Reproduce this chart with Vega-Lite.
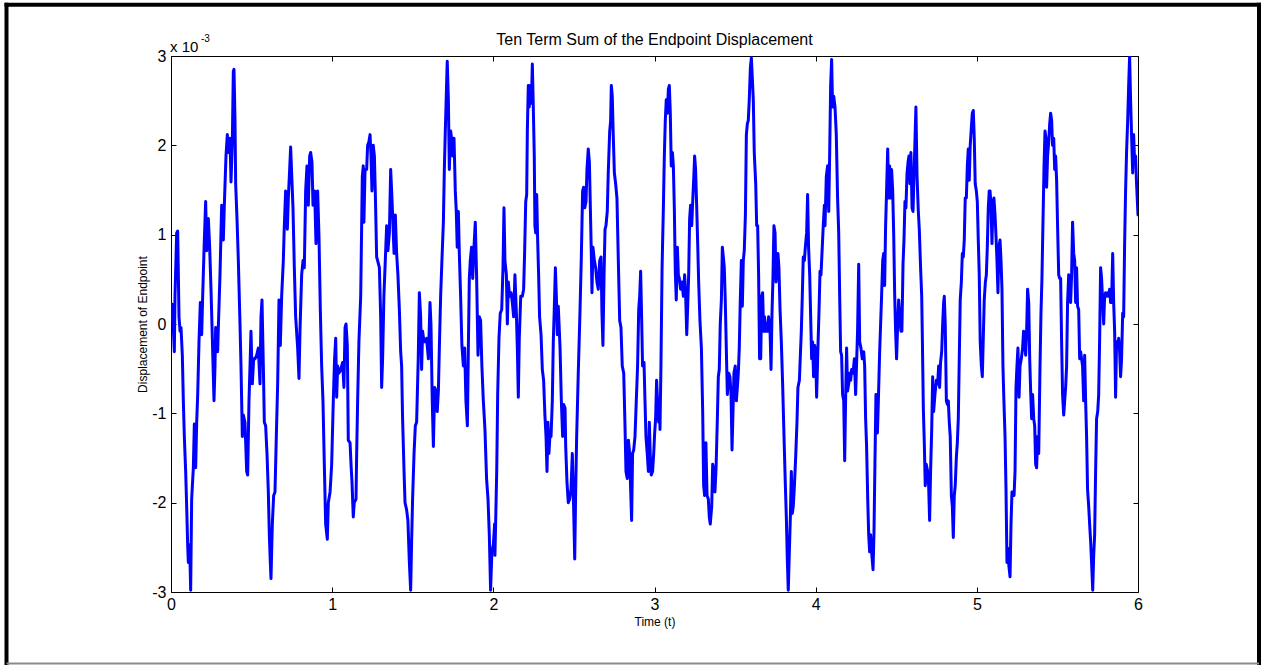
{
  "$schema": "https://vega.github.io/schema/vega-lite/v6.json",
  "width": 967,
  "height": 536,
  "autosize": {"type": "none"},
  "padding": {"left": 171, "top": 56, "right": 129, "bottom": 73},
  "background": "#ffffff",
  "config": {
    "view": {"stroke": "#000000", "strokeWidth": 1},
    "font": "Liberation Sans",
    "axis": {
      "grid": false,
      "domain": false,
      "ticks": true,
      "tickSize": -5,
      "tickColor": "#000000",
      "tickWidth": 1,
      "labelColor": "#000000",
      "labelFont": "Liberation Sans",
      "labelFontSize": 16,
      "labelFlush": false,
      "labelOverlap": false,
      "titleFont": "Liberation Sans",
      "titleFontWeight": "normal",
      "titleColor": "#000000",
      "titleFontSize": 12
    }
  },
  "datasets": {
    "signal": [
      {"time":0,"disp":0.04},{"time":0.0083,"disp":0.22},{"time":0.0207,"disp":-0.31},{"time":0.0248,"disp":0.31},{"time":0.0352,"disp":1.02},{"time":0.0414,"disp":1.04},{"time":0.0497,"disp":0.08},{"time":0.0559,"disp":-0.08},{"time":0.0621,"disp":-0.04},{"time":0.0703,"disp":-0.35},{"time":0.0765,"disp":-0.86},{"time":0.0827,"disp":-1.26},{"time":0.091,"disp":-1.65},{"time":0.0972,"disp":-2.04},{"time":0.1034,"disp":-2.47},{"time":0.1076,"disp":-2.67},{"time":0.1158,"disp":-2.47},{"time":0.122,"disp":-2.98},{"time":0.1282,"disp":-1.96},{"time":0.1386,"disp":-1.61},{"time":0.1448,"disp":-1.12},{"time":0.1531,"disp":-1.61},{"time":0.1593,"disp":-1.1},{"time":0.1655,"disp":-0.8},{"time":0.1737,"disp":-0.2},{"time":0.182,"disp":0.24},{"time":0.1903,"disp":-0.12},{"time":0.1965,"disp":0.31},{"time":0.2068,"disp":0.94},{"time":0.2151,"disp":1.37},{"time":0.2213,"disp":0.82},{"time":0.2316,"disp":1.18},{"time":0.2399,"disp":0.86},{"time":0.2482,"disp":0.39},{"time":0.2565,"disp":-0.16},{"time":0.2668,"disp":-0.86},{"time":0.273,"disp":-0.47},{"time":0.2771,"disp":-0.04},{"time":0.2895,"disp":-0.31},{"time":0.2937,"disp":-0.04},{"time":0.304,"disp":0.55},{"time":0.3144,"disp":1.33},{"time":0.3247,"disp":0.94},{"time":0.3309,"disp":1.33},{"time":0.3412,"disp":1.88},{"time":0.3495,"disp":2.12},{"time":0.3557,"disp":1.92},{"time":0.3661,"disp":2.08},{"time":0.3723,"disp":1.59},{"time":0.3805,"disp":2.04},{"time":0.3867,"disp":2.83},{"time":0.3909,"disp":2.85},{"time":0.3971,"disp":2.28},{"time":0.4012,"disp":1.57},{"time":0.4095,"disp":1.18},{"time":0.4178,"disp":0.71},{"time":0.4281,"disp":0},{"time":0.4343,"disp":-0.47},{"time":0.4426,"disp":-1.26},{"time":0.4488,"disp":-1.02},{"time":0.4591,"disp":-1.1},{"time":0.4695,"disp":-1.65},{"time":0.4757,"disp":-1.69},{"time":0.4839,"disp":-0.86},{"time":0.4922,"disp":-0.35},{"time":0.4963,"disp":-0.08},{"time":0.5046,"disp":-0.67},{"time":0.5129,"disp":-0.39},{"time":0.5212,"disp":-0.39},{"time":0.5315,"disp":-0.35},{"time":0.5418,"disp":-0.27},{"time":0.5522,"disp":-0.67},{"time":0.5584,"disp":0.08},{"time":0.5646,"disp":0.27},{"time":0.5729,"disp":-0.47},{"time":0.5791,"disp":-1.1},{"time":0.5873,"disp":-1.14},{"time":0.5956,"disp":-1.45},{"time":0.6039,"disp":-1.88},{"time":0.6101,"disp":-2.36},{"time":0.6163,"disp":-2.67},{"time":0.6204,"disp":-2.85},{"time":0.6287,"disp":-2.24},{"time":0.637,"disp":-1.92},{"time":0.6452,"disp":-1.88},{"time":0.6535,"disp":-1.26},{"time":0.6618,"disp":-0.67},{"time":0.6701,"disp":0.27},{"time":0.6783,"disp":-0.24},{"time":0.6866,"disp":0.31},{"time":0.6969,"disp":0.71},{"time":0.7031,"disp":1.1},{"time":0.7114,"disp":1.49},{"time":0.7218,"disp":1.06},{"time":0.728,"disp":1.41},{"time":0.7362,"disp":1.73},{"time":0.7424,"disp":1.98},{"time":0.7486,"disp":1.69},{"time":0.7569,"disp":1.3},{"time":0.7652,"disp":0.63},{"time":0.7735,"disp":0.08},{"time":0.7859,"disp":-0.27},{"time":0.7941,"disp":-0.61},{"time":0.8003,"disp":-0.08},{"time":0.8107,"disp":0.55},{"time":0.819,"disp":0.71},{"time":0.8272,"disp":0.63},{"time":0.8355,"disp":1.49},{"time":0.8438,"disp":1.77},{"time":0.852,"disp":1.33},{"time":0.8603,"disp":1.88},{"time":0.8665,"disp":1.92},{"time":0.8748,"disp":1.81},{"time":0.881,"disp":1.33},{"time":0.8913,"disp":1.49},{"time":0.8996,"disp":0.9},{"time":0.9099,"disp":1.49},{"time":0.9182,"disp":0.98},{"time":0.9265,"disp":0.16},{"time":0.9348,"disp":-0.47},{"time":0.943,"disp":-0.86},{"time":0.9513,"disp":-1.57},{"time":0.9596,"disp":-2.24},{"time":0.9699,"disp":-2.41},{"time":0.9761,"disp":-2},
      {"time":0.987,"disp":-1.88},{"time":0.997,"disp":-1.57},{"time":1.007,"disp":-0.86},{"time":1.015,"disp":-0.39},{"time":1.022,"disp":-0.16},{"time":1.028,"disp":-0.82},{"time":1.034,"disp":-0.47},{"time":1.042,"disp":-0.55},{"time":1.053,"disp":-0.51},{"time":1.065,"disp":-0.43},{"time":1.073,"disp":-0.71},{"time":1.08,"disp":-0.04},{"time":1.086,"disp":0},{"time":1.094,"disp":-0.24},{"time":1.1,"disp":-1.3},{"time":1.111,"disp":-1.33},{"time":1.117,"disp":-1.57},{"time":1.123,"disp":-1.77},{"time":1.131,"disp":-2.16},{"time":1.137,"disp":-2},{"time":1.148,"disp":-1.96},{"time":1.152,"disp":-1.45},{"time":1.158,"disp":-0.86},{"time":1.166,"disp":-0.2},{"time":1.177,"disp":0.31},{"time":1.183,"disp":1.1},{"time":1.187,"disp":1.65},{"time":1.193,"disp":1.77},{"time":1.197,"disp":1.14},{"time":1.204,"disp":1.73},{"time":1.214,"disp":1.73},{"time":1.22,"disp":2},{"time":1.228,"disp":2.04},{"time":1.235,"disp":2.12},{"time":1.241,"disp":1.88},{"time":1.247,"disp":1.49},{"time":1.255,"disp":2},{"time":1.262,"disp":1.88},{"time":1.268,"disp":1.45},{"time":1.276,"disp":0.75},{"time":1.282,"disp":0.71},{"time":1.293,"disp":0.63},{"time":1.301,"disp":0.08},{"time":1.307,"disp":-0.71},{"time":1.313,"disp":-0.39},{"time":1.321,"disp":0.31},{"time":1.332,"disp":0.82},{"time":1.338,"disp":1.1},{"time":1.346,"disp":0.82},{"time":1.355,"disp":1.02},{"time":1.363,"disp":1.73},{"time":1.369,"disp":1.49},{"time":1.375,"disp":1.22},{"time":1.384,"disp":0.79},{"time":1.392,"disp":1.22},{"time":1.4,"disp":0.79},{"time":1.408,"disp":0.55},{"time":1.417,"disp":0.16},{"time":1.425,"disp":-0.31},{"time":1.431,"disp":-0.47},{"time":1.437,"disp":-1.06},{"time":1.446,"disp":-1.65},{"time":1.452,"disp":-2},{"time":1.462,"disp":-2.08},{"time":1.47,"disp":-2.2},{"time":1.479,"disp":-2.67},{"time":1.487,"disp":-2.98},{"time":1.493,"disp":-2.43},{"time":1.499,"disp":-1.96},{"time":1.508,"disp":-1.45},{"time":1.516,"disp":-1.14},{"time":1.524,"disp":-1.1},{"time":1.534,"disp":-0.39},{"time":1.541,"disp":0.35},{"time":1.549,"disp":0.08},{"time":1.555,"disp":-0.51},{"time":1.561,"disp":-0.08},{"time":1.57,"disp":-0.2},{"time":1.576,"disp":-0.2},{"time":1.586,"disp":-0.16},{"time":1.597,"disp":-0.39},{"time":1.607,"disp":0.24},{"time":1.613,"disp":0},{"time":1.621,"disp":-0.86},{"time":1.628,"disp":-1.37},{"time":1.636,"disp":-0.71},{"time":1.644,"disp":-0.75},{"time":1.652,"disp":-0.98},{"time":1.659,"disp":-0.75},{"time":1.665,"disp":-0.27},{"time":1.673,"disp":0.31},{"time":1.681,"disp":0.71},{"time":1.69,"disp":1.14},{"time":1.696,"disp":1.73},{"time":1.702,"disp":2.16},{"time":1.708,"disp":2.55},{"time":1.714,"disp":2.94},{"time":1.721,"disp":2.51},{"time":1.727,"disp":1.73},{"time":1.735,"disp":2.16},{"time":1.741,"disp":2.08},{"time":1.748,"disp":1.88},{"time":1.756,"disp":2.08},{"time":1.764,"disp":1.49},{"time":1.77,"disp":1.26},{"time":1.776,"disp":0.86},{"time":1.783,"disp":1.26},{"time":1.789,"disp":0.79},{"time":1.797,"disp":0.31},{"time":1.805,"disp":-0.24},{"time":1.814,"disp":-0.47},{"time":1.822,"disp":-0.27},{"time":1.83,"disp":-0.86},{"time":1.839,"disp":-1.14},{"time":1.845,"disp":-0.27},{"time":1.851,"disp":0.51},{"time":1.857,"disp":0.71},{"time":1.865,"disp":0.86},{"time":1.872,"disp":0.51},{"time":1.88,"disp":0.86},{"time":1.888,"disp":1.14},{"time":1.896,"disp":0.55},{"time":1.905,"disp":-0.35},{"time":1.913,"disp":0.08},{"time":1.921,"disp":0.04},{"time":1.929,"disp":-0.47},{"time":1.938,"disp":-0.86},{"time":1.948,"disp":-1.18},{"time":1.958,"disp":-1.73},{"time":1.967,"disp":-1.96},{"time":1.975,"disp":-2.36},{"time":1.983,"disp":-2.98},{"time":1.991,"disp":-2.55},{"time":2,"disp":-2.47},{"time":2.008,"disp":-2.24},
      {"time":2.01,"disp":-2.59},{"time":2.021,"disp":-1.65},{"time":2.027,"disp":-0.79},{"time":2.035,"disp":-0.16},{"time":2.043,"disp":0.12},{"time":2.052,"disp":0.16},{"time":2.06,"disp":0.63},{"time":2.066,"disp":1.3},{"time":2.072,"disp":0.71},{"time":2.081,"disp":0.55},{"time":2.087,"disp":0},{"time":2.093,"disp":0.47},{"time":2.101,"disp":0.31},{"time":2.11,"disp":0.35},{"time":2.118,"disp":0.24},{"time":2.126,"disp":0.08},{"time":2.134,"disp":0.55},{"time":2.143,"disp":0.12},{"time":2.149,"disp":-0.27},{"time":2.155,"disp":-0.82},{"time":2.161,"disp":-0.16},{"time":2.17,"disp":0.31},{"time":2.18,"disp":0.31},{"time":2.188,"disp":0.39},{"time":2.194,"disp":0.79},{"time":2.201,"disp":1.37},{"time":2.207,"disp":1.45},{"time":2.211,"disp":2.16},{"time":2.217,"disp":2.67},{"time":2.223,"disp":2.43},{"time":2.23,"disp":2.67},{"time":2.236,"disp":2.47},{"time":2.242,"disp":2.91},{"time":2.248,"disp":2.43},{"time":2.254,"disp":1.88},{"time":2.258,"disp":1.1},{"time":2.263,"disp":1.02},{"time":2.269,"disp":1.45},{"time":2.275,"disp":0.94},{"time":2.281,"disp":0.55},{"time":2.287,"disp":0.08},{"time":2.296,"disp":-0.12},{"time":2.304,"disp":-0.51},{"time":2.312,"disp":-0.63},{"time":2.32,"disp":-1.02},{"time":2.327,"disp":-1.26},{"time":2.333,"disp":-1.65},{"time":2.339,"disp":-1.1},{"time":2.345,"disp":-1.45},{"time":2.352,"disp":-1.22},{"time":2.358,"disp":-1.26},{"time":2.366,"disp":-0.86},{"time":2.372,"disp":-0.2},{"time":2.378,"disp":0.16},{"time":2.385,"disp":0.63},{"time":2.391,"disp":0.31},{"time":2.397,"disp":-0.12},{"time":2.403,"disp":0.2},{"time":2.414,"disp":-0.27},{"time":2.422,"disp":-0.86},{"time":2.43,"disp":-1.26},{"time":2.436,"disp":-0.9},{"time":2.445,"disp":-0.94},{"time":2.449,"disp":-1.37},{"time":2.457,"disp":-1.77},{"time":2.465,"disp":-2},{"time":2.474,"disp":-1.96},{"time":2.482,"disp":-1.85},{"time":2.49,"disp":-1.45},{"time":2.498,"disp":-2.04},{"time":2.505,"disp":-2.63},{"time":2.511,"disp":-1.85},{"time":2.517,"disp":-1.26},{"time":2.527,"disp":-0.55},{"time":2.538,"disp":0.16},{"time":2.546,"disp":0.75},{"time":2.554,"disp":1.49},{"time":2.56,"disp":1.53},{"time":2.567,"disp":1.3},{"time":2.575,"disp":1.37},{"time":2.581,"disp":1.73},{"time":2.589,"disp":1.96},{"time":2.596,"disp":1.81},{"time":2.602,"disp":1.3},{"time":2.608,"disp":0.79},{"time":2.612,"disp":0.35},{"time":2.618,"disp":0.86},{"time":2.627,"disp":0.71},{"time":2.635,"disp":0.63},{"time":2.643,"disp":0.47},{"time":2.651,"disp":0.39},{"time":2.66,"disp":0.71},{"time":2.668,"disp":0.75},{"time":2.674,"disp":0.12},{"time":2.68,"disp":-0.24},{"time":2.687,"disp":0.55},{"time":2.693,"disp":1.06},{"time":2.699,"disp":1.1},{"time":2.707,"disp":1.26},{"time":2.713,"disp":1.69},{"time":2.722,"disp":2.16},{"time":2.728,"disp":2.28},{"time":2.732,"disp":2.67},{"time":2.738,"disp":2.55},{"time":2.744,"disp":2.12},{"time":2.751,"disp":1.69},{"time":2.759,"disp":1.57},{"time":2.767,"disp":1.41},{"time":2.775,"disp":0.75},{"time":2.784,"disp":0.04},{"time":2.792,"disp":-0.04},{"time":2.8,"disp":-0.47},{"time":2.809,"disp":-0.55},{"time":2.817,"disp":-1.14},{"time":2.823,"disp":-1.65},{"time":2.831,"disp":-1.73},{"time":2.838,"disp":-1.3},{"time":2.846,"disp":-1.45},{"time":2.852,"disp":-1.85},{"time":2.858,"disp":-2.2},{"time":2.864,"disp":-1.45},{"time":2.871,"disp":-1.41},{"time":2.879,"disp":-1.26},{"time":2.887,"disp":-0.86},{"time":2.895,"disp":-0.47},{"time":2.902,"disp":0.16},{"time":2.908,"disp":0.31},{"time":2.914,"disp":0.59},{"time":2.92,"disp":0.08},{"time":2.926,"disp":-0.47},{"time":2.935,"disp":-0.43},{"time":2.941,"disp":-0.86},{"time":2.947,"disp":-1.26},{"time":2.955,"disp":-1.45},{"time":2.962,"disp":-1.65},{"time":2.968,"disp":-1.1},{"time":2.974,"disp":-1.49},{"time":2.98,"disp":-1.69},{"time":2.988,"disp":-1.65},{"time":2.995,"disp":-1.45},{"time":3.001,"disp":-1.22},{"time":3.007,"disp":-1.06},{"time":3.013,"disp":-0.63},{"time":3.019,"disp":-0.86},{"time":3.026,"disp":-1.1},{"time":3.032,"disp":-0.86},
      {"time":3.034,"disp":-1.18},{"time":3.04,"disp":-0.47},{"time":3.047,"disp":0.63},{"time":3.055,"disp":1.3},{"time":3.061,"disp":1.88},{"time":3.067,"disp":2.28},{"time":3.073,"disp":2.51},{"time":3.08,"disp":2.36},{"time":3.086,"disp":2.63},{"time":3.092,"disp":2.67},{"time":3.098,"disp":2.36},{"time":3.104,"disp":1.77},{"time":3.111,"disp":1.92},{"time":3.117,"disp":1.77},{"time":3.123,"disp":1.3},{"time":3.129,"disp":0.59},{"time":3.135,"disp":0.27},{"time":3.142,"disp":0.86},{"time":3.148,"disp":0.55},{"time":3.154,"disp":0.51},{"time":3.162,"disp":0.39},{"time":3.171,"disp":0.47},{"time":3.179,"disp":0.31},{"time":3.187,"disp":0.55},{"time":3.193,"disp":0.35},{"time":3.2,"disp":-0.12},{"time":3.206,"disp":0.2},{"time":3.212,"disp":0.55},{"time":3.218,"disp":1.18},{"time":3.224,"disp":1.33},{"time":3.231,"disp":1.1},{"time":3.237,"disp":1.37},{"time":3.243,"disp":1.61},{"time":3.249,"disp":1.88},{"time":3.255,"disp":1.73},{"time":3.262,"disp":1.3},{"time":3.268,"disp":0.9},{"time":3.274,"disp":0.47},{"time":3.282,"disp":0.04},{"time":3.291,"disp":-0.27},{"time":3.299,"disp":-0.98},{"time":3.305,"disp":-1.81},{"time":3.311,"disp":-1.92},{"time":3.319,"disp":-1.33},{"time":3.326,"disp":-1.92},{"time":3.334,"disp":-1.96},{"time":3.34,"disp":-2.16},{"time":3.346,"disp":-2.24},{"time":3.355,"disp":-2.04},{"time":3.361,"disp":-1.57},{"time":3.369,"disp":-1.65},{"time":3.375,"disp":-1.88},{"time":3.382,"disp":-1.61},{"time":3.39,"disp":-1.06},{"time":3.396,"disp":-0.59},{"time":3.402,"disp":-0.51},{"time":3.408,"disp":0},{"time":3.415,"disp":0.27},{"time":3.421,"disp":0.86},{"time":3.427,"disp":0.75},{"time":3.433,"disp":0.63},{"time":3.439,"disp":0.27},{"time":3.446,"disp":-0.31},{"time":3.452,"disp":-0.79},{"time":3.46,"disp":-0.55},{"time":3.468,"disp":-0.59},{"time":3.475,"disp":-0.79},{"time":3.481,"disp":-1.41},{"time":3.487,"disp":-0.98},{"time":3.493,"disp":-0.55},{"time":3.501,"disp":-0.47},{"time":3.508,"disp":-0.86},{"time":3.514,"disp":-0.71},{"time":3.52,"disp":-0.55},{"time":3.526,"disp":-0.27},{"time":3.532,"disp":0.24},{"time":3.539,"disp":0.71},{"time":3.545,"disp":0.2},{"time":3.551,"disp":0.71},{"time":3.557,"disp":0.82},{"time":3.564,"disp":1.22},{"time":3.57,"disp":2.12},{"time":3.576,"disp":2.24},{"time":3.582,"disp":2.28},{"time":3.588,"disp":2.51},{"time":3.595,"disp":2.87},{"time":3.601,"disp":2.98},{"time":3.607,"disp":2.75},{"time":3.613,"disp":2.51},{"time":3.619,"disp":1.92},{"time":3.628,"disp":1.57},{"time":3.634,"disp":1.1},{"time":3.64,"disp":1.1},{"time":3.646,"disp":0.55},{"time":3.652,"disp":-0.39},{"time":3.659,"disp":-0.39},{"time":3.665,"disp":0.31},{"time":3.671,"disp":0.35},{"time":3.677,"disp":-0.08},{"time":3.683,"disp":0.08},{"time":3.69,"disp":-0.08},{"time":3.696,"disp":0},{"time":3.702,"disp":-0.08},{"time":3.708,"disp":0.08},{"time":3.717,"disp":-0.08},{"time":3.723,"disp":-0.51},{"time":3.729,"disp":0.12},{"time":3.735,"disp":0.51},{"time":3.741,"disp":1.1},{"time":3.748,"disp":1.02},{"time":3.754,"disp":0.47},{"time":3.76,"disp":0.63},{"time":3.766,"disp":0.79},{"time":3.772,"disp":0.63},{"time":3.779,"disp":0.16},{"time":3.787,"disp":-0.2},{"time":3.795,"disp":-0.67},{"time":3.803,"disp":-1.22},{"time":3.812,"disp":-1.81},{"time":3.818,"disp":-2.16},{"time":3.824,"disp":-2.63},{"time":3.83,"disp":-2.98},{"time":3.836,"disp":-2.59},{"time":3.843,"disp":-2.16},{"time":3.849,"disp":-1.65},{"time":3.855,"disp":-2.12},{"time":3.861,"disp":-2.04},{"time":3.867,"disp":-1.85},{"time":3.876,"disp":-1.49},{"time":3.884,"disp":-1.1},{"time":3.89,"disp":-0.71},{"time":3.899,"disp":-0.63},{"time":3.905,"disp":-0.35},{"time":3.911,"disp":-0.08},{"time":3.917,"disp":0.31},{"time":3.923,"disp":0.75},{"time":3.93,"disp":0.71},{"time":3.936,"disp":0.86},{"time":3.944,"disp":1.02},{"time":3.95,"disp":1.45},{"time":3.956,"disp":0.86},{"time":3.963,"disp":0.55},{"time":3.969,"disp":0.08},{"time":3.975,"disp":-0.39},{"time":3.981,"disp":-0.2},{"time":3.987,"disp":-0.59},{"time":3.994,"disp":-0.24},{"time":4,"disp":-0.35},{"time":4.006,"disp":-0.82},{"time":4.014,"disp":-0.27},{"time":4.021,"disp":0.16},{"time":4.027,"disp":0.59},{"time":4.033,"disp":0.55},{"time":4.041,"disp":0.86},{"time":4.047,"disp":1.1},{"time":4.054,"disp":1.33},
      {"time":4.058,"disp":1.1},{"time":4.066,"disp":1.65},{"time":4.074,"disp":1.77},{"time":4.081,"disp":1.26},{"time":4.087,"disp":1.92},{"time":4.093,"disp":2.67},{"time":4.099,"disp":2.96},{"time":4.105,"disp":2.43},{"time":4.112,"disp":2.55},{"time":4.12,"disp":2.43},{"time":4.128,"disp":2.12},{"time":4.136,"disp":1.41},{"time":4.143,"disp":1.02},{"time":4.149,"disp":0.31},{"time":4.155,"disp":-0.31},{"time":4.161,"disp":-0.35},{"time":4.167,"disp":-0.79},{"time":4.174,"disp":-0.86},{"time":4.18,"disp":-1.53},{"time":4.186,"disp":-0.82},{"time":4.192,"disp":-0.27},{"time":4.198,"disp":-0.75},{"time":4.205,"disp":-0.67},{"time":4.211,"disp":-0.55},{"time":4.217,"disp":-0.63},{"time":4.223,"disp":-0.51},{"time":4.232,"disp":-0.55},{"time":4.24,"disp":-0.39},{"time":4.248,"disp":-0.79},{"time":4.254,"disp":-0.43},{"time":4.26,"disp":-0.08},{"time":4.267,"disp":0.67},{"time":4.273,"disp":-0.2},{"time":4.281,"disp":-0.27},{"time":4.289,"disp":-0.39},{"time":4.298,"disp":-0.31},{"time":4.304,"disp":-0.47},{"time":4.31,"disp":-1.06},{"time":4.316,"disp":-1.37},{"time":4.323,"disp":-1.96},{"time":4.329,"disp":-2.36},{"time":4.335,"disp":-2.55},{"time":4.341,"disp":-2.36},{"time":4.347,"disp":-2.55},{"time":4.356,"disp":-2.75},{"time":4.362,"disp":-2.32},{"time":4.368,"disp":-1.53},{"time":4.374,"disp":-0.79},{"time":4.383,"disp":-1.22},{"time":4.389,"disp":-0.86},{"time":4.397,"disp":-0.31},{"time":4.403,"disp":0},{"time":4.409,"disp":0.31},{"time":4.416,"disp":0.71},{"time":4.422,"disp":0.79},{"time":4.428,"disp":0.43},{"time":4.434,"disp":1.1},{"time":4.44,"disp":1.49},{"time":4.447,"disp":1.96},{"time":4.453,"disp":1.41},{"time":4.459,"disp":1.77},{"time":4.465,"disp":1.41},{"time":4.471,"disp":1.73},{"time":4.478,"disp":1.49},{"time":4.484,"disp":1.02},{"time":4.49,"disp":0.35},{"time":4.496,"disp":-0.08},{"time":4.502,"disp":-0.39},{"time":4.509,"disp":0},{"time":4.515,"disp":0.27},{"time":4.521,"disp":0.12},{"time":4.529,"disp":-0.08},{"time":4.535,"disp":-0.08},{"time":4.542,"disp":0.67},{"time":4.548,"disp":0.94},{"time":4.554,"disp":1.37},{"time":4.56,"disp":1.3},{"time":4.567,"disp":1.69},{"time":4.573,"disp":1.81},{"time":4.579,"disp":1.88},{"time":4.585,"disp":1.57},{"time":4.591,"disp":1.92},{"time":4.598,"disp":1.3},{"time":4.604,"disp":1.26},{"time":4.61,"disp":1.65},{"time":4.616,"disp":2.04},{"time":4.622,"disp":2.43},{"time":4.629,"disp":1.65},{"time":4.637,"disp":1.26},{"time":4.643,"disp":1.06},{"time":4.651,"disp":0.63},{"time":4.658,"disp":0.31},{"time":4.662,"disp":-0.16},{"time":4.668,"disp":-0.94},{"time":4.674,"disp":-1.33},{"time":4.68,"disp":-1.81},{"time":4.686,"disp":-1.57},{"time":4.695,"disp":-1.65},{"time":4.701,"disp":-1.81},{"time":4.707,"disp":-2.2},{"time":4.713,"disp":-1.65},{"time":4.72,"disp":-1.18},{"time":4.726,"disp":-0.59},{"time":4.732,"disp":-0.98},{"time":4.74,"disp":-0.79},{"time":4.749,"disp":-0.63},{"time":4.757,"disp":-0.67},{"time":4.763,"disp":-0.47},{"time":4.769,"disp":-0.71},{"time":4.775,"disp":-0.43},{"time":4.782,"disp":-0.31},{"time":4.788,"disp":0},{"time":4.794,"disp":0.24},{"time":4.798,"disp":0.31},{"time":4.804,"disp":0},{"time":4.811,"disp":-0.86},{"time":4.817,"disp":-0.9},{"time":4.823,"disp":-0.86},{"time":4.829,"disp":-1.1},{"time":4.835,"disp":-1.26},{"time":4.842,"disp":-1.92},{"time":4.848,"disp":-2.04},{"time":4.854,"disp":-2.39},{"time":4.86,"disp":-1.92},{"time":4.866,"disp":-1.81},{"time":4.873,"disp":-1.49},{"time":4.879,"disp":-1.33},{"time":4.885,"disp":-1.06},{"time":4.891,"disp":-0.39},{"time":4.897,"disp":0.27},{"time":4.904,"disp":0.47},{"time":4.91,"disp":0.79},{"time":4.916,"disp":0.75},{"time":4.922,"disp":0.94},{"time":4.928,"disp":1.41},{"time":4.935,"disp":1.41},{"time":4.941,"disp":1.77},{"time":4.947,"disp":1.96},{"time":4.953,"disp":1.61},{"time":4.959,"disp":2},{"time":4.966,"disp":2.2},{"time":4.972,"disp":2.36},{"time":4.978,"disp":2.39},{"time":4.984,"disp":2.08},{"time":4.99,"disp":1.57},{"time":4.997,"disp":1.49},{"time":5.003,"disp":1.37},{"time":5.009,"disp":0.94},{"time":5.015,"disp":0.55},{"time":5.021,"disp":-0.2},{"time":5.028,"disp":-0.47},{"time":5.034,"disp":-0.59},{"time":5.04,"disp":-0.16},{"time":5.046,"disp":0.27},{"time":5.053,"disp":0.47},{"time":5.059,"disp":0.55},{"time":5.065,"disp":0.86},{"time":5.071,"disp":1.3},{"time":5.077,"disp":1.49},
      {"time":5.082,"disp":1.49},{"time":5.088,"disp":1.33},{"time":5.094,"disp":0.9},{"time":5.1,"disp":1.37},{"time":5.106,"disp":1.41},{"time":5.113,"disp":1.22},{"time":5.119,"disp":0.98},{"time":5.125,"disp":0.71},{"time":5.131,"disp":0.35},{"time":5.137,"disp":0.86},{"time":5.144,"disp":0.94},{"time":5.15,"disp":0.71},{"time":5.156,"disp":0.39},{"time":5.162,"disp":-0.47},{"time":5.168,"disp":-0.86},{"time":5.175,"disp":-1.26},{"time":5.181,"disp":-1.85},{"time":5.187,"disp":-2.67},{"time":5.193,"disp":-2.51},{"time":5.199,"disp":-2.71},{"time":5.206,"disp":-2.83},{"time":5.212,"disp":-2.24},{"time":5.218,"disp":-1.88},{"time":5.224,"disp":-1.88},{"time":5.231,"disp":-1.92},{"time":5.237,"disp":-1.65},{"time":5.243,"disp":-0.71},{"time":5.249,"disp":-0.47},{"time":5.255,"disp":-0.27},{"time":5.262,"disp":-0.82},{"time":5.268,"disp":-0.47},{"time":5.276,"disp":-0.39},{"time":5.284,"disp":-0.27},{"time":5.29,"disp":-0.08},{"time":5.297,"disp":-0.2},{"time":5.303,"disp":-0.35},{"time":5.309,"disp":-0.08},{"time":5.315,"disp":0.39},{"time":5.322,"disp":0.24},{"time":5.328,"disp":-0.39},{"time":5.334,"disp":-0.75},{"time":5.34,"disp":-1.06},{"time":5.346,"disp":-0.79},{"time":5.353,"disp":-1.06},{"time":5.359,"disp":-1.14},{"time":5.365,"disp":-1.57},{"time":5.371,"disp":-1.61},{"time":5.377,"disp":-1.26},{"time":5.384,"disp":-1.45},{"time":5.392,"disp":-0.47},{"time":5.398,"disp":0.12},{"time":5.404,"disp":0.51},{"time":5.41,"disp":1.1},{"time":5.417,"disp":1.77},{"time":5.423,"disp":2.16},{"time":5.429,"disp":2.08},{"time":5.433,"disp":1.53},{"time":5.439,"disp":1.88},{"time":5.446,"disp":2.04},{"time":5.452,"disp":2.24},{"time":5.458,"disp":2.36},{"time":5.464,"disp":2.28},{"time":5.47,"disp":2},{"time":5.477,"disp":2.08},{"time":5.483,"disp":1.73},{"time":5.489,"disp":1.88},{"time":5.495,"disp":1.61},{"time":5.501,"disp":1.1},{"time":5.508,"disp":0.55},{"time":5.514,"disp":0.51},{"time":5.52,"disp":0.51},{"time":5.526,"disp":-0.2},{"time":5.532,"disp":-0.79},{"time":5.539,"disp":-1.02},{"time":5.545,"disp":-0.86},{"time":5.551,"disp":-0.71},{"time":5.557,"disp":-0.47},{"time":5.563,"disp":0.24},{"time":5.57,"disp":0.55},{"time":5.576,"disp":0.27},{"time":5.582,"disp":0.24},{"time":5.588,"disp":0.55},{"time":5.594,"disp":1.14},{"time":5.601,"disp":0.79},{"time":5.607,"disp":0.71},{"time":5.613,"disp":0.24},{"time":5.619,"disp":0.63},{"time":5.625,"disp":0.2},{"time":5.632,"disp":0.16},{"time":5.638,"disp":-0.39},{"time":5.644,"disp":-0.31},{"time":5.65,"disp":-0.39},{"time":5.656,"disp":-0.47},{"time":5.663,"disp":-0.86},{"time":5.669,"disp":-0.35},{"time":5.675,"disp":-0.86},{"time":5.681,"disp":-1.26},{"time":5.687,"disp":-1.85},{"time":5.694,"disp":-2.04},{"time":5.7,"disp":-2.24},{"time":5.706,"disp":-2.43},{"time":5.712,"disp":-2.67},{"time":5.719,"disp":-2.98},{"time":5.725,"disp":-2.59},{"time":5.731,"disp":-2.36},{"time":5.737,"disp":-1.65},{"time":5.743,"disp":-1.06},{"time":5.75,"disp":-0.98},{"time":5.756,"disp":-0.79},{"time":5.762,"disp":-0.16},{"time":5.768,"disp":0.63},{"time":5.774,"disp":0.51},{"time":5.781,"disp":0.24},{"time":5.787,"disp":0},{"time":5.793,"disp":0.31},{"time":5.799,"disp":0.35},{"time":5.805,"disp":0.31},{"time":5.812,"disp":0.35},{"time":5.818,"disp":0.31},{"time":5.824,"disp":0.39},{"time":5.83,"disp":0.24},{"time":5.836,"disp":0.24},{"time":5.843,"disp":0.79},{"time":5.849,"disp":0.24},{"time":5.855,"disp":-0.08},{"time":5.861,"disp":-0.82},{"time":5.867,"disp":-0.2},{"time":5.874,"disp":-0.27},{"time":5.88,"disp":-0.16},{"time":5.886,"disp":-0.31},{"time":5.892,"disp":-0.59},{"time":5.898,"disp":-0.39},{"time":5.905,"disp":0.12},{"time":5.911,"disp":0.08},{"time":5.917,"disp":0.9},{"time":5.923,"disp":1.49},{"time":5.929,"disp":1.92},{"time":5.936,"disp":2.28},{"time":5.942,"disp":2.67},{"time":5.948,"disp":3},{"time":5.954,"disp":2.51},{"time":5.96,"disp":2.12},{"time":5.967,"disp":1.69},{"time":5.973,"disp":2.12},{"time":5.979,"disp":1.81},{"time":5.985,"disp":1.88},{"time":5.991,"disp":1.57},{"time":6,"disp":1.22}
    ]
  },
  "layer": [
    {
      "data": {"name": "signal"},
      "mark": {"type": "line", "color": "#0000ff", "strokeWidth": 3, "strokeJoin": "round", "strokeCap": "round", "clip": true},
      "encoding": {
        "x": {
          "field": "time", "type": "quantitative",
          "scale": {"domain": [0, 6], "nice": false, "zero": false},
          "axis": {"orient": "bottom", "values": [0, 1, 2, 3, 4, 5, 6], "labelPadding": 9, "labelExpr": "datum.value < 0 ? '-' + abs(datum.value) : '' + datum.value", "title": "Time (t)", "titleY": 29, "titleBaseline": "middle", "titleX": 483.5, "titleAnchor": "middle"}
        },
        "y": {
          "field": "disp", "type": "quantitative",
          "scale": {"domain": [-3, 3], "nice": false, "zero": false},
          "axis": {"orient": "left", "values": [-3, -2, -1, 0, 1, 2, 3], "labelPadding": 10, "labelExpr": "datum.value < 0 ? '-' + abs(datum.value) : '' + datum.value", "title": "Displacement of Endpoint", "titleX": -29, "titleY": 268, "titleAngle": -90, "titleAlign": "center", "titleBaseline": "middle"}
        }
      }
    },
    {
      "data": {"values": [{}]},
      "mark": {"type": "text", "text": "x 10", "align": "left", "baseline": "alphabetic", "dx": -1, "dy": -4, "fontSize": 15, "font": "Liberation Sans", "color": "#000000"},
      "encoding": {
        "x": {"datum": 0, "type": "quantitative", "axis": {"orient": "top", "values": [0, 1, 2, 3, 4, 5, 6], "labels": false, "title": null}},
        "y": {"datum": 3, "type": "quantitative", "axis": {"orient": "right", "values": [-3, -2, -1, 0, 1, 2, 3], "labels": false, "title": null}}
      }
    },
    {
      "data": {"values": [{}]},
      "mark": {"type": "text", "text": "-3", "align": "left", "baseline": "alphabetic", "dx": 30, "dy": -14, "fontSize": 10, "font": "Liberation Sans", "color": "#000000"},
      "encoding": {
        "x": {"datum": 0, "type": "quantitative", "axis": null},
        "y": {"datum": 3, "type": "quantitative", "axis": null}
      }
    },
    {
      "data": {"values": [{}]},
      "mark": {"type": "text", "text": "Ten Term Sum of the Endpoint Displacement", "align": "center", "baseline": "alphabetic", "dy": -11, "fontSize": 16, "font": "Liberation Sans", "color": "#000000"},
      "encoding": {
        "x": {"datum": 3, "type": "quantitative", "axis": null},
        "y": {"datum": 3, "type": "quantitative", "axis": null}
      }
    },
    {
      "data": {"values": [{}]},
      "mark": {"type": "rule", "color": "#000000", "strokeWidth": 4, "strokeCap": "square", "clip": false},
      "encoding": {
        "x": {"datum": -1.0207, "type": "quantitative", "axis": null},
        "y": {"datum": 3.5743, "type": "quantitative", "axis": null},
        "y2": {"datum": -3.8}
      }
    },
    {
      "data": {"values": [{}]},
      "mark": {"type": "rule", "color": "#000000", "strokeWidth": 4, "strokeCap": "square", "clip": false},
      "encoding": {
        "x": {"datum": 6.7508, "type": "quantitative", "axis": null},
        "y": {"datum": 3.5743, "type": "quantitative", "axis": null},
        "y2": {"datum": -3.8}
      }
    },
    {
      "data": {"values": [{}]},
      "mark": {"type": "rule", "color": "#000000", "strokeWidth": 4, "strokeCap": "square", "clip": false},
      "encoding": {
        "x": {"datum": -1.0207, "type": "quantitative", "axis": null},
        "x2": {"datum": 6.7508},
        "y": {"datum": 3.5743, "type": "quantitative", "axis": null}
      }
    },
    {
      "data": {"values": [{}]},
      "mark": {"type": "rule", "color": "#8c8c8c", "strokeWidth": 2, "clip": false},
      "encoding": {
        "x": {"datum": -1.0207, "type": "quantitative", "axis": null},
        "x2": {"datum": 6.7508},
        "y": {"datum": -3.8, "type": "quantitative", "axis": null}
      }
    }
  ],
  "resolve": {"axis": {"x": "independent", "y": "independent"}}
}
